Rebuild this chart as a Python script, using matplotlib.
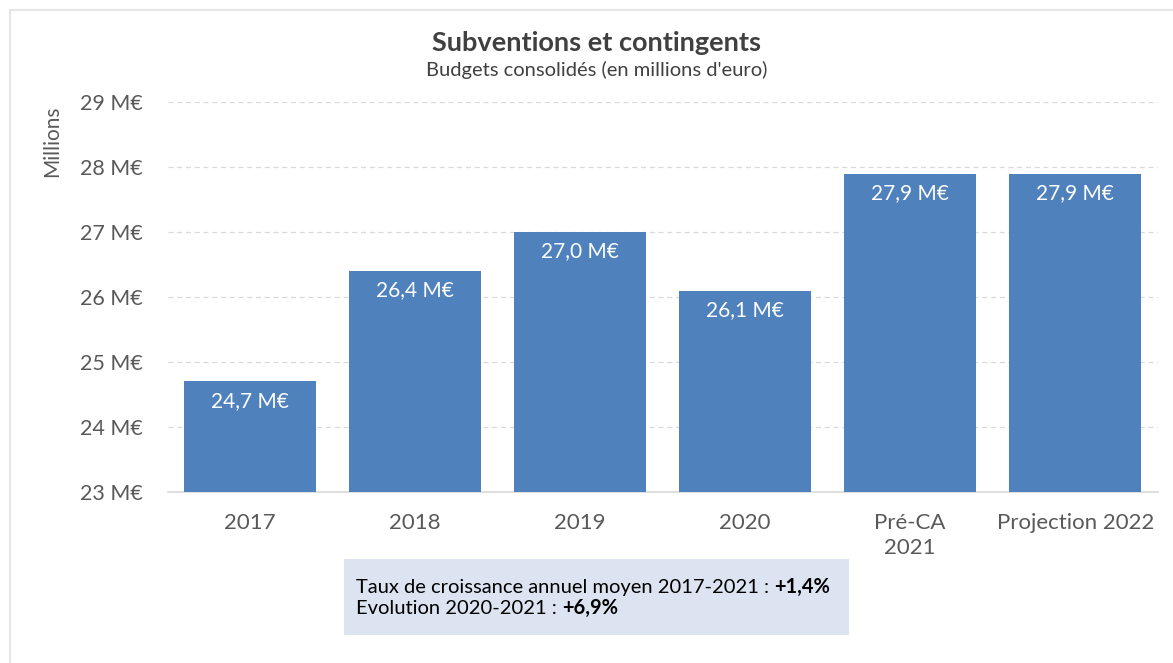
import matplotlib
matplotlib.use("Agg")
from matplotlib import pyplot as plt
from matplotlib.patches import Rectangle

categories = ["2017", "2018", "2019", "2020", "Pré-CA\n2021", "Projection 2022"]
values = [24.7, 26.4, 27.0, 26.1, 27.9, 27.9]
value_labels = ["24,7 M€", "26,4 M€", "27,0 M€", "26,1 M€", "27,9 M€", "27,9 M€"]
y_ticks = [23, 24, 25, 26, 27, 28, 29]
y_tick_labels = [f"{v} M€" for v in y_ticks]

plt.rcParams['font.family'] = ['Lato', 'DejaVu Sans']

fig = plt.figure(figsize=(11.73, 6.63), dpi=100)
ax = fig.add_axes([0.143, 0.258, 0.844, 0.588])

x = list(range(len(categories)))
bars = ax.bar(x, values, width=0.8, color="#4F81BD", zorder=3)

for xi, v, lab in zip(x, values, value_labels):
    ax.annotate(lab, xy=(xi, v), xytext=(0, -14), textcoords="offset points",
                ha="center", va="center", color="white", fontsize=15)

ax.set_xlim(-0.5, 5.5)
ax.set_ylim(23, 29)
ax.set_yticks(y_ticks)
ax.set_yticklabels(y_tick_labels, fontsize=15.5, color="#595959")
ax.set_xticks(x)
ax.set_xticklabels(categories, fontsize=16, color="#595959", linespacing=1.35)
ax.tick_params(axis="both", length=0)
ax.tick_params(axis="x", pad=15)
ax.tick_params(axis="y", pad=18)

ax.grid(axis="y", color="#D9D9D9", linestyle=(0, (4, 3)), linewidth=0.9, zorder=0)
for side in ["top", "right", "left"]:
    ax.spines[side].set_visible(False)
ax.spines["bottom"].set_color("#D9D9D9")
ax.spines["bottom"].set_linewidth(1.2)

fig.text(52 / 1173, 1 - 141 / 663, "Millions", rotation=90, ha="center", va="center",
         fontsize=15, color="#595959")

fig.text(597 / 1173, 1 - 43 / 663, "Subventions et contingents", ha="center", va="center",
         fontsize=19.5, fontweight="bold", color="#404040")
fig.text(597 / 1173, 1 - 70 / 663, "Budgets consolidés (en millions d'euro)", ha="center",
         va="center", fontsize=14.5, color="#404040")

# encadré du bas
fig.patches.append(Rectangle((344 / 1173, 1 - 635 / 663), 505 / 1173, 76 / 663,
                             transform=fig.transFigure, facecolor="#DCE3F1",
                             edgecolor="none", zorder=0))

renderer = fig.canvas.get_renderer()
lines = [("Taux de croissance annuel moyen 2017-2021 : ", "+1,4%", 593),
         ("Evolution 2020-2021 : ", "+6,9%", 614)]
for normal, bold, ypix in lines:
    t = fig.text(356 / 1173, 1 - ypix / 663, normal, fontsize=14.5, color="black",
                 va="baseline")
    bb = t.get_window_extent(renderer=renderer)
    fig.text(bb.x1 / fig.bbox.width, 1 - ypix / 663, bold, fontsize=14.5,
             fontweight="bold", color="black", va="baseline")

# cadre léger
fig.patches.append(Rectangle((10 / 1173, -0.01), 1.02, 1 - 10 / 663 + 0.01,
                             transform=fig.transFigure, facecolor="none",
                             edgecolor="#E6E6E6", linewidth=1.5, zorder=0))

fig.savefig("out.png", dpi=100)
